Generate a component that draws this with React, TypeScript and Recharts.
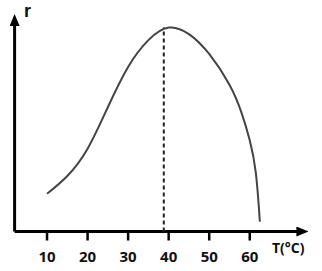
import { LineChart, Line, XAxis, YAxis, ReferenceLine } from 'recharts';

// temperature (°C) and rate r
const temps = [10, 15, 20, 25, 30, 35, 40, 45, 50, 55, 58, 60, 61.5, 62.5];
const rates = [18, 26.5, 39.5, 59.3, 78.5, 91.3, 97.3, 94.2, 84.7, 70, 56.5, 43.5, 28, 4.7];
const xTicks = [10, 20, 30, 40, 50, 60];
const xDomain = [2, 72];
const yDomain = [0, 99];
const optimumT = 38.8;
const optimumR = 97.3;

const data = temps.map((t, i) => ({ t, r: rates[i] }));

const tickStyle = { fill: '#111', fontSize: 15, fontWeight: 700, fontFamily: 'Open Sans, sans-serif' };

// axis drawn as a plain line with an arrowhead at its far end
const ArrowAxis = (props: any) => {
  const { x1, y1, x2, y2, vertical } = props;
  const pts = vertical
    ? { x1, x2, y1: Math.max(y1, y2), y2: Math.min(y1, y2) }
    : { y1, y2, x1: Math.min(x1, x2), x2: Math.max(x1, x2) };
  return <line {...pts} stroke="#000" strokeWidth={3} markerEnd="url(#arrowHead)" />;
};

export default function App() {
  return (
    <div style={{ width: 322, height: 271 }}>
      <style>{`body{margin:0}`}</style>
      <LineChart width={322} height={271} data={data} margin={{ top: 24, right: 23.6, bottom: 0, left: 14.6 }}>
        <defs>
          <marker id="arrowHead" viewBox="0 0 12 10" refX={2} refY={5} markerWidth={12} markerHeight={10}
            markerUnits="userSpaceOnUse" orient="auto">
            <path d="M0,0 L12,5 L0,10 z" fill="#000" />
          </marker>
        </defs>
        <XAxis
          dataKey="t" type="number" domain={xDomain} ticks={xTicks} height={39.5}
          axisLine={false}
          tickLine={{ stroke: '#000', strokeWidth: 2.5 }} tickSize={9} tickMargin={11}
          tick={tickStyle}
        />
        <YAxis type="number" domain={yDomain} hide />
        <ReferenceLine x={xDomain[0]} shape={(p: any) => <ArrowAxis {...p} vertical />} />
        <ReferenceLine y={yDomain[0]} shape={(p: any) => <ArrowAxis {...p} />} />
        <ReferenceLine
          segment={[{ x: optimumT, y: 0 }, { x: optimumT, y: optimumR }]}
          stroke="#222" strokeWidth={2} strokeDasharray="4 3"
        />
        <Line type="natural" dataKey="r" stroke="#444" strokeWidth={2} dot={false} isAnimationActive={false} />
        <text x={24} y={17} fontSize={18} fontWeight={700} fontFamily="Liberation Sans, sans-serif" fill="#111">r</text>
        <text x={272} y={253} fontSize={14} fontWeight={700} fontFamily="Open Sans, sans-serif" fill="#111">T(°C)</text>
      </LineChart>
    </div>
  );
}
